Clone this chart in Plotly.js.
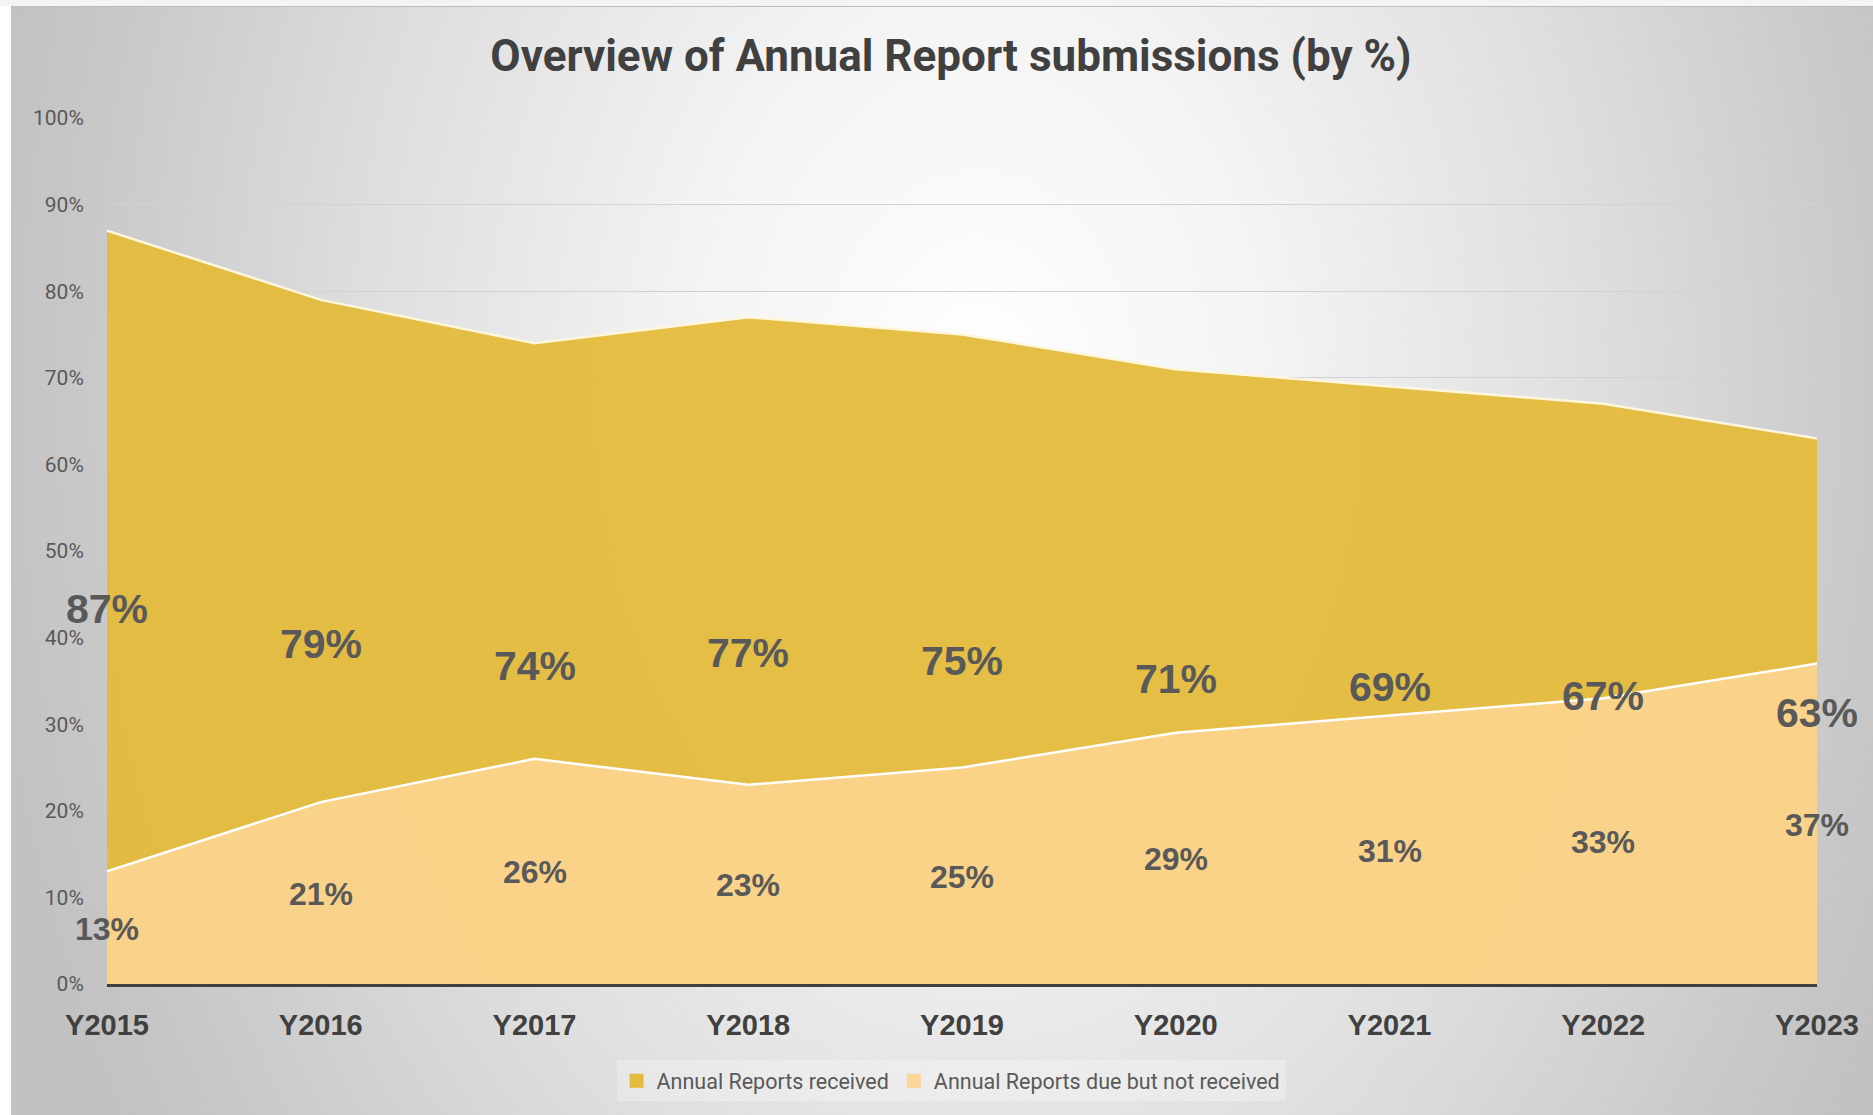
<!DOCTYPE html>
<html>
<head>
<meta charset="utf-8">
<script src="https://cdn.plot.ly/plotly-3.0.1.min.js"></script>
<style>
  html, body { margin: 0; padding: 0; background: #ffffff; width: 1873px; height: 1115px; overflow: hidden; }
  #topstrip { position: absolute; left: 0; top: 0; width: 1873px; height: 6px; background: #f4f4f4; }
  #panel { position: absolute; left: 11px; top: 6px; width: 1862px; height: 1109px;
    border-top: 1px solid #bdbdbd;
    background: radial-gradient(ellipse 1000px 1400px at 52% 35%, #ffffff 0%, #f3f3f3 30%, #dedede 62%, #c8c8c8 90%, #c2c2c2 100%); }
  #chart { position: absolute; left: 0; top: 0; width: 1873px; height: 1115px; }
</style>
</head>
<body>
<div id="topstrip"></div>
<div id="panel"></div>
<div id="chart"></div>
<script>
const years = ["Y2015","Y2016","Y2017","Y2018","Y2019","Y2020","Y2021","Y2022","Y2023"];
const received = [87, 79, 74, 77, 75, 71, 69, 67, 63];
const notReceived = [13, 21, 26, 23, 25, 29, 31, 33, 37];
const seriesNames = ["Annual Reports received", "Annual Reports due but not received"];
const titleText = "Overview of Annual Report submissions (by %)";

const darkGold = "rgba(228,187,60,0.95)";
const lightGold = "rgba(250,212,139,0.97)";
const legendDark = "#e4bb3c";
const legendLight = "#fbd699";
const labelColor = "#595959";

const traces = [
  {
    x: years, y: received, name: seriesNames[0], type: "scatter", mode: "lines",
    fill: "tozeroy", fillcolor: darkGold, showlegend: false,
    line: { color: "#fff6dc", width: 2.5 }, hoverinfo: "skip"
  },
  {
    x: years, y: notReceived, name: seriesNames[1], type: "scatter", mode: "lines",
    fill: "tozeroy", fillcolor: lightGold, showlegend: false,
    line: { color: "#ffffff", width: 2.5 }, hoverinfo: "skip"
  },
  {
    x: [null], y: [null], name: seriesNames[0], type: "scatter", mode: "markers",
    marker: { symbol: "square", size: 14, color: legendDark, line: { width: 0 } }
  },
  {
    x: [null], y: [null], name: seriesNames[1], type: "scatter", mode: "markers",
    marker: { symbol: "square", size: 14, color: legendLight, line: { width: 0 } }
  }
];

const annotations = [];
years.forEach((yr, i) => {
  annotations.push({
    x: yr, y: received[i] / 2, xref: "x", yref: "y", text: "<b>" + received[i] + "%</b>",
    showarrow: false, yshift: -2,
    font: { family: "Liberation Sans, Arial, sans-serif", size: 41, color: labelColor }
  });
  annotations.push({
    x: yr, y: notReceived[i] / 2, xref: "x", yref: "y", text: "<b>" + notReceived[i] + "%</b>",
    showarrow: false, yshift: -1,
    font: { family: "Liberation Sans, Arial, sans-serif", size: 32, color: labelColor }
  });
});

const layout = {
  width: 1873, height: 1115,
  paper_bgcolor: "rgba(0,0,0,0)", plot_bgcolor: "rgba(0,0,0,0)",
  margin: { l: 107, r: 56, t: 118, b: 131 },
  title: {
    text: "<b>" + titleText + "</b>",
    font: { family: "Roboto, sans-serif", size: 44, color: "#404040" },
    x: 0.5077, xanchor: "center", xref: "container",
    y: 0.9498, yanchor: "middle", yref: "container"
  },
  xaxis: {
    type: "category", range: [0, 8], showgrid: false, zeroline: false,
    showline: true, linecolor: "#404040", linewidth: 3,
    ticks: "outside", ticklen: 13, tickcolor: "rgba(0,0,0,0)",
    tickfont: { family: "Liberation Sans, Arial, sans-serif", size: 29, color: "#404040", weight: "bold" },
    fixedrange: true
  },
  yaxis: {
    range: [0, 100], dtick: 10, tick0: 0, ticksuffix: "%",
    showgrid: true, gridcolor: "#d2d2d2", gridwidth: 1.3,
    zeroline: false, showline: false,
    ticks: "outside", ticklen: 18, tickcolor: "rgba(0,0,0,0)",
    tickfont: { family: "Roboto, sans-serif", size: 21, color: "#595959" },
    fixedrange: true
  },
  annotations: annotations,
  showlegend: true,
  legend: {
    orientation: "h", x: 0.4936, xanchor: "center", y: -0.088, yanchor: "top",
    bgcolor: "rgba(252,252,252,0.3)", borderwidth: 0,
    font: { family: "Roboto, sans-serif", size: 21.5, color: "#595959" },
    itemwidth: 30, traceorder: "normal"
  },
  hovermode: false
};

Plotly.newPlot("chart", traces, layout, { displayModeBar: false, staticPlot: true });
</script>
</body>
</html>
